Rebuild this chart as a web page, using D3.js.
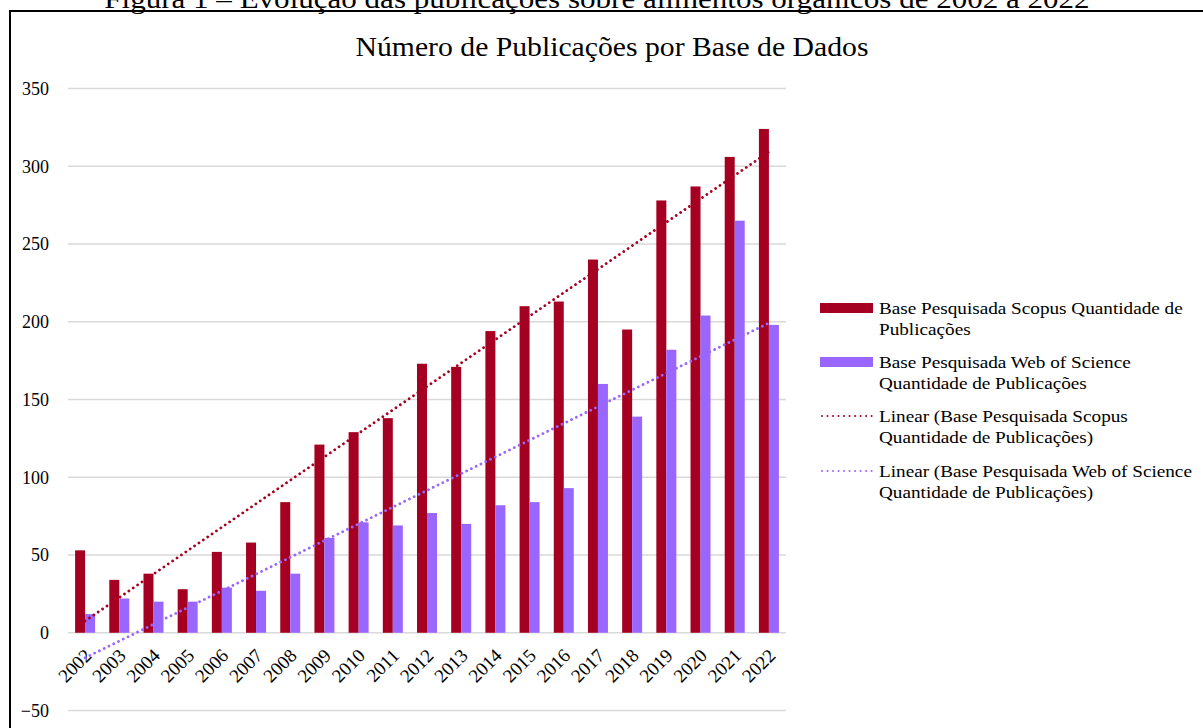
<!DOCTYPE html>
<html>
<head>
<meta charset="utf-8">
<script src="https://cdn.jsdelivr.net/npm/d3@7"></script>
<style>
  html, body { margin: 0; padding: 0; background: #fff; }
  svg { display: block; }
  text { font-family: "Liberation Serif", "Times New Roman", serif; fill: #000; }
</style>
</head>
<body>
<svg id="chart" width="1203" height="728"></svg>
<script>
const years = ["2002","2003","2004","2005","2006","2007","2008","2009","2010","2011","2012",
               "2013","2014","2015","2016","2017","2018","2019","2020","2021","2022"];
const scopus = [53,34,38,28,52,58,84,121,129,138,173,171,194,210,213,240,195,278,287,306,324];
const wos    = [12,22,20,20,29,27,38,61,71,69,77,70,82,84,93,160,139,182,204,265,198];
const yTicks = [-50,0,50,100,150,200,250,300,350];
const seriesNames = ["Base Pesquisada Scopus Quantidade de Publicações",
                     "Base Pesquisada Web of Science Quantidade de Publicações"];
const legendLines = [
  ["Base Pesquisada Scopus Quantidade de", "Publicações"],
  ["Base Pesquisada Web of Science", "Quantidade de Publicações"],
  ["Linear (Base Pesquisada Scopus", "Quantidade de Publicações)"],
  ["Linear (Base Pesquisada Web of Science", "Quantidade de Publicações)"]
];
const chartTitle = "Número de Publicações por Base de Dados";
const caption = "Figura 1 – Evolução das publicações sobre alimentos orgânicos de 2002 a 2022";

const RED = "#A50021", PURPLE = "#9966FF", GRID = "#D9D9D9";

const svg = d3.select("#chart");

// caption (cut off at top, as in the source) and frame
svg.append("text").attr("x", 597).attr("y", 8).attr("text-anchor", "middle")
  .attr("font-size", 27).attr("transform", "translate(597,0) scale(1.15,1) translate(-597,0)")
  .text(caption);
svg.append("rect").attr("x", 10).attr("y", 11).attr("width", 1300).attr("height", 800)
  .attr("fill", "none").attr("stroke", "#000").attr("stroke-width", 2);

// chart title
svg.append("text").attr("x", 612).attr("y", 56).attr("text-anchor", "middle")
  .attr("font-size", 27).attr("transform", "translate(612,0) scale(1.1,1) translate(-612,0)")
  .text(chartTitle);

const left = 68, right = 786;
const y = d3.scaleLinear().domain([-50, 350]).range([710.5, 88.5]);
const x0 = d3.scaleBand().domain(years).range([left, right]).padding(0);
const x1 = d3.scaleBand().domain([0, 1]).range([0, x0.bandwidth()]).paddingOuter(0.71).paddingInner(0);

// gridlines
svg.append("g").selectAll("line").data(yTicks).join("line")
  .attr("x1", left).attr("x2", right)
  .attr("y1", d => y(d)).attr("y2", d => y(d))
  .attr("stroke", GRID).attr("stroke-width", 1.6);

// y axis labels
const yAxis = d3.axisLeft(y).tickValues(yTicks).tickSize(0).tickPadding(0);
const yg = svg.append("g").attr("transform", "translate(49,0)").call(yAxis);
yg.select(".domain").remove();
yg.selectAll("text").attr("font-size", 18).attr("font-family", "Liberation Serif").attr("fill", "#000");

// bars
const data = years.map((yr, i) => ({ yr, vals: [scopus[i], wos[i]] }));
const colors = [RED, PURPLE];
svg.append("g").selectAll("g").data(data).join("g")
  .attr("transform", d => `translate(${x0(d.yr)},0)`)
  .selectAll("rect").data(d => d.vals.map((v, k) => ({ v, k }))).join("rect")
  .attr("x", d => x1(d.k)).attr("width", x1.bandwidth())
  .attr("y", d => y(Math.max(0, d.v))).attr("height", d => Math.abs(y(d.v) - y(0)))
  .attr("fill", d => colors[d.k]);

// x axis labels (rotated)
svg.append("g").selectAll("text").data(years).join("text")
  .attr("transform", d => `translate(${x0(d) + x0.bandwidth() / 2 + 3},${652}) rotate(-45)`)
  .attr("text-anchor", "end").attr("font-size", 19)
  .attr("dy", "0.35em")
  .text(d => d);

// linear trendlines (least squares over category index)
function fit(vals) {
  const n = vals.length;
  const xm = d3.mean(vals, (v, i) => i), ym = d3.mean(vals);
  let sxy = 0, sxx = 0;
  vals.forEach((v, i) => { sxy += (i - xm) * (v - ym); sxx += (i - xm) * (i - xm); });
  const b = sxy / sxx, a = ym - b * xm;
  return [[0, a], [n - 1, a + b * (n - 1)]];
}
const cx = i => x0(years[i]) + x0.bandwidth() / 2;
const line = d3.line().x(d => cx(d[0])).y(d => y(d[1]));
[[scopus, RED], [wos, PURPLE]].forEach(([vals, col]) => {
  svg.append("path").attr("d", line(fit(vals)))
    .attr("fill", "none").attr("stroke", col).attr("stroke-width", 2.8)
    .attr("stroke-linecap", "round").attr("stroke-dasharray", "0.01 5.3");
});

// legend
const legendY = [314, 368, 422, 477];
const lg = svg.append("g");
legendLines.forEach((lines, i) => {
  const g = lg.append("g");
  const cy = legendY[i] - 6;
  if (i < 2) {
    g.append("rect").attr("x", 820).attr("y", cy - 5).attr("width", 53).attr("height", 10)
      .attr("fill", colors[i]);
  } else {
    g.append("line").attr("x1", 822).attr("x2", 872).attr("y1", cy).attr("y2", cy)
      .attr("stroke", colors[i - 2]).attr("stroke-width", 2)
      .attr("stroke-linecap", "round").attr("stroke-dasharray", "0.01 5.5");
  }
  lines.forEach((t, j) => {
    g.append("text").attr("x", 0).attr("y", 0)
      .attr("transform", `translate(879,${legendY[i] + j * 21}) scale(1.2,1)`)
      .attr("font-size", 16).text(t);
  });
});
</script>
</body>
</html>
